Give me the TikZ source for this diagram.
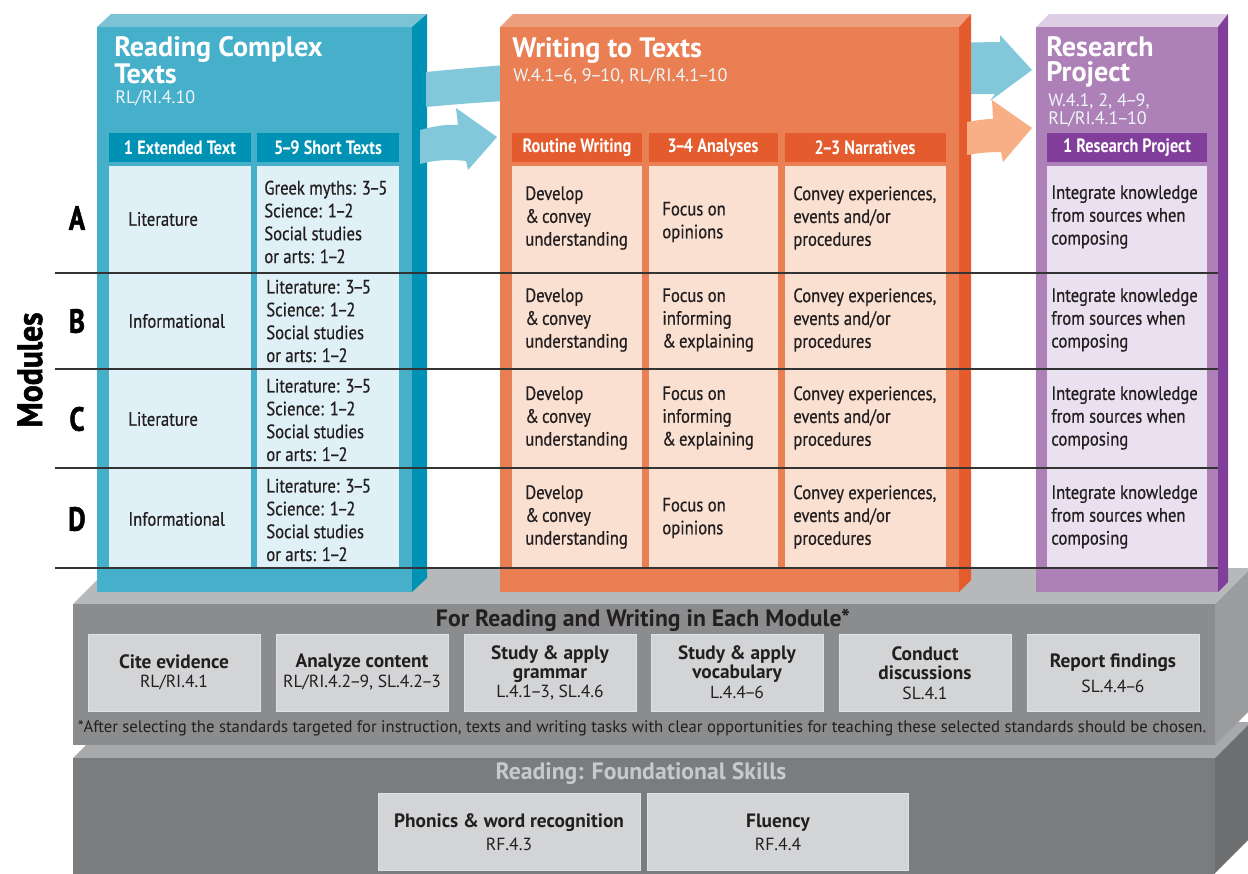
\documentclass[tikz,border=0pt]{standalone}
\usepackage{fontspec}
\setmainfont{PT Sans}
\newfontfamily\cond[FakeStretch=0.84]{PT Sans}
\newfontfamily\condM[FakeStretch=0.86,FakeBold=0.6]{PT Sans}
\newfontfamily\heavy[FakeStretch=0.8,FakeBold=1.5]{PT Sans}
\newfontfamily\heavyM[FakeStretch=0.9,FakeBold=1.5]{PT Sans}
\newcommand{\dsh}{\kern-0.09em–\kern-0.09em}
\definecolor{bluefront}{HTML}{46AFC9}
\definecolor{blueside}{HTML}{0092B4}
\definecolor{bluetop}{HTML}{7CC3D6}
\definecolor{bluecell}{HTML}{DFF0F6}
\definecolor{bluearrow}{HTML}{82C8DA}
\definecolor{orfront}{HTML}{E97F53}
\definecolor{orside}{HTML}{E45C2D}
\definecolor{ortop}{HTML}{EEA07E}
\definecolor{orcell}{HTML}{FAE0D1}
\definecolor{orarrow}{HTML}{F9AF86}
\definecolor{pufront}{HTML}{AE80B8}
\definecolor{puside}{HTML}{813E9A}
\definecolor{putop}{HTML}{DDCDE5}
\definecolor{pucell}{HTML}{E9E1F0}
\definecolor{gtopA}{HTML}{B7B8B9}
\definecolor{gfrontA}{HTML}{8B8C8D}
\definecolor{gsideA}{HTML}{9B9C9D}
\definecolor{gtopB}{HTML}{A8A9AA}
\definecolor{gfrontB}{HTML}{7B7C7D}
\definecolor{gsideB}{HTML}{6D6E70}
\definecolor{gbox}{HTML}{D3D4D6}
\definecolor{txtdark}{HTML}{231F20}
\definecolor{subwhite}{HTML}{EEF6F9}
\definecolor{rowline}{HTML}{333333}
\definecolor{fsgray}{HTML}{C8C9CA}
\tikzset{
  ttl/.style={anchor=west, align=left, inner sep=0pt, text=white, font=\bfseries\fontsize{16}{14.5}\selectfont},
  subttl/.style={anchor=west, inner sep=0pt, text=subwhite, font=\fontsize{10.3}{12}\selectfont},
  hdrtxt/.style={inner sep=0pt, text=white, font=\cond\bfseries\fontsize{11}{13}\selectfont},
  celltxt/.style={anchor=west, align=left, inner sep=0pt, text=txtdark, font=\condM\fontsize{11}{13}\selectfont},
  rowlab/.style={inner sep=0pt, text=black, font=\heavy\bfseries\fontsize{19}{21}\selectfont},
  gboxtxt/.style={align=center, inner sep=0pt, text=txtdark, font=\fontsize{10}{11}\selectfont},
  gboxfill/.style={fill=gbox, draw=gbox!70!white, line width=0.5pt},
  rline/.style={draw=rowline, line width=0.9pt},
}
\newcommand{\bx}[1]{{\bfseries\fontsize{11}{11}\selectfont #1}}
\begin{document}
\begin{tikzpicture}[x=0.02cm,y=-0.02cm]
\useasboundingbox (0,0) rectangle (1248,873);
\clip (0,0) rectangle (1248,873);
\fill[white] (0,0) rectangle (1248,873);

% ---------- lower platform ----------
\fill[gtopB] (73,758)--(109,722)--(1251,722)--(1215,758)--cycle;
\fill[gsideB] (1215,758)--(1251,722)--(1251,837)--(1215,873)--cycle;
\fill[gfrontB] (73,758) rectangle (1215,880);
% ---------- upper platform ----------
\fill[gtopA] (73,604)--(109,568)--(1251,568)--(1215,604)--cycle;
\fill[gsideA] (1215,604)--(1251,568)--(1251,709)--(1215,745)--cycle;
\fill[gfrontA] (73,604) rectangle (1215,745);

% ---------- blue box ----------
\fill[bluetop] (97,27)--(111,14)--(427,14)--(412,27)--cycle;
\fill[blueside] (412,27)--(427,14)--(427,578)--(412,592)--cycle;
\fill[bluefront] (97,27) rectangle (412,592);

% upper blue band (passes behind the orange box)
\fill[bluearrow] (426,72) .. controls (600,55) and (850,44) .. (1000,42)
  -- (1000,35) -- (1032,70) -- (990,101) -- (995,94)
  .. controls (850,96) and (600,90) .. (426,107) -- cycle;
% lower blue arrow
\fill[bluearrow] (420,130) .. controls (435,126) and (447,124) .. (458,125)
  -- (456,108) -- (497,137) -- (468,170) -- (466,161)
  .. controls (450,159) and (435,160) .. (420,164) -- cycle;

% ---------- orange box ----------
\fill[ortop] (500,27)--(513,14)--(971,14)--(959,27)--cycle;
\fill[orside] (959,27)--(971,14)--(971,580)--(959,592)--cycle;
\fill[orfront] (500,27) rectangle (959,592);
% orange arrow
\fill[orarrow] (967,122) .. controls (978,120) and (986,119) .. (993,119)
  -- (992,100) -- (1032,128) -- (1003,162) -- (1001,152)
  .. controls (990,152) and (978,153) .. (967,155) -- cycle;

% ---------- purple box ----------
\fill[putop] (1036,27)--(1049,14)--(1228,14)--(1218,27)--cycle;
\fill[puside] (1218,27)--(1228,14)--(1228,582)--(1218,592)--cycle;
\fill[pufront] (1036,27) rectangle (1218,592);

% ---------- titles ----------
\node[ttl] (rt) at (114,60) {Reading Complex\\Texts};
\node[subttl] (rs) at (115,98) {RL/RI.4.10};
\node[ttl] (wt) at (512,50) {Writing to Texts};
\node[subttl] (ws) at (513,76) {W.4.1\dsh6, 9\dsh10, RL/RI.4.1\dsh10};
\node[ttl] (pt) at (1046,62) {Research\\Project};
\node[subttl] (ps1) at (1048,101) {W.4.1, 2, 4\dsh9,};
\node[subttl] (ps2) at (1048,119) {RL/RI.4.1\dsh10};

% ---------- headers and cells ----------
\fill[blueside] (109,133) rectangle (251,162);
\fill[blueside] (257,133) rectangle (399,162);
\fill[bluecell] (109,166) rectangle (251,568);
\fill[bluecell] (257,166) rectangle (399,568);
\fill[orside] (512,133) rectangle (642,162);
\fill[orside] (649,133) rectangle (778,162);
\fill[orside] (785,133) rectangle (946,162);
\fill[orcell] (512,166) rectangle (642,568);
\fill[orcell] (649,166) rectangle (778,568);
\fill[orcell] (785,166) rectangle (946,568);
\fill[puside] (1047,133) rectangle (1207,162);
\fill[pucell] (1047,166) rectangle (1207,568);

\node[hdrtxt] (h1) at (180,148) {1 Extended Text};
\node[hdrtxt] (h2) at (328,148) {5\dsh9 Short Texts};
\node[hdrtxt] (h3) at (577,148) {Routine Writing};
\node[hdrtxt] (h4) at (713,148) {3\dsh4 Analyses};
\node[hdrtxt] (h5) at (865,148) {2\dsh3 Narratives};
\node[hdrtxt] (h6) at (1127,148) {1 Research Project};

% column 1 (reading)
\node[celltxt] (a1) at (128,219) {Literature};
\node[celltxt] (b1) at (128,321) {Informational};
\node[celltxt] (c1) at (128,419) {Literature};
\node[celltxt] (d1) at (128,519) {Informational};
% column 2 (short texts)
\node[celltxt] (a2) at (264,222) {Greek myths: 3\dsh5\\Science: 1\dsh2\\Social studies\\or arts: 1\dsh2};
\node[celltxt] (b2) at (266,321) {Literature: 3\dsh5\\Science: 1\dsh2\\Social studies\\or arts: 1\dsh2};
\node[celltxt] (c2) at (266,420) {Literature: 3\dsh5\\Science: 1\dsh2\\Social studies\\or arts: 1\dsh2};
\node[celltxt] (d2) at (266,520) {Literature: 3\dsh5\\Science: 1\dsh2\\Social studies\\or arts: 1\dsh2};
% routine writing
\node[celltxt] (a3) at (525,218) {Develop\\\&\,convey\\understanding};
\node[celltxt] (b3) at (525,320) {Develop\\\&\,convey\\understanding};
\node[celltxt] (c3) at (525,418) {Develop\\\&\,convey\\understanding};
\node[celltxt] (d3) at (525,517) {Develop\\\&\,convey\\understanding};
% analyses
\node[celltxt] (a4) at (662,222) {Focus on\\opinions};
\node[celltxt] (b4) at (662,320) {Focus on\\informing\\\&\,explaining};
\node[celltxt] (c4) at (662,418) {Focus on\\informing\\\&\,explaining};
\node[celltxt] (d4) at (662,518) {Focus on\\opinions};
% narratives
\node[celltxt] (a5) at (793,218) {Convey experiences,\\events and/or\\procedures};
\node[celltxt] (b5) at (793,320) {Convey experiences,\\events and/or\\procedures};
\node[celltxt] (c5) at (793,418) {Convey experiences,\\events and/or\\procedures};
\node[celltxt] (d5) at (793,517) {Convey experiences,\\events and/or\\procedures};
% research
\node[celltxt] (a6) at (1051,217) {Integrate knowledge\\from sources when\\composing};
\node[celltxt] (b6) at (1051,320) {Integrate knowledge\\from sources when\\composing};
\node[celltxt] (c6) at (1051,418) {Integrate knowledge\\from sources when\\composing};
\node[celltxt] (d6) at (1051,517) {Integrate knowledge\\from sources when\\composing};

% ---------- row labels ----------
\node[rowlab] (la) at (77,218) {A};
\node[rowlab] (lb) at (77,321) {B};
\node[rowlab] (lc) at (77,419) {C};
\node[rowlab] (ld) at (77,519) {D};
\node[rotate=90, inner sep=0pt, text=black, font=\heavyM\bfseries\fontsize{20}{22}\selectfont] (mod) at (30,370) {Modules};

% ---------- row lines ----------
\coordinate (l1s) at (55,273); \coordinate (l1e) at (1218,273);
\coordinate (l2s) at (55,369); \coordinate (l2e) at (1218,369);
\coordinate (l3s) at (55,468); \coordinate (l3e) at (1218,468);
\coordinate (l4s) at (55,568); \coordinate (l4e) at (1218,568);
\draw[rline] (l1s) -- (l1e);
\draw[rline] (l2s) -- (l2e);
\draw[rline] (l3s) -- (l3e);
\draw[rline] (l4s) -- (l4e);

% ---------- upper platform content ----------
\node[inner sep=0pt, text=txtdark, font=\bfseries\fontsize{13.5}{15}\selectfont] (frw) at (643,620) {For Reading and Writing in Each Module*};
\fill[gboxfill] (88,634) rectangle (260,711);
\fill[gboxfill] (276,634) rectangle (448,711);
\fill[gboxfill] (464,634) rectangle (636,711);
\fill[gboxfill] (651,634) rectangle (823,711);
\fill[gboxfill] (839,634) rectangle (1011,711);
\fill[gboxfill] (1027,634) rectangle (1199,711);
\node[gboxtxt] (g1) at (174,672) {\bx{Cite evidence}\\RL/RI.4.1};
\node[gboxtxt] (g2) at (362,672) {\bx{Analyze content}\\RL/RI.4.2\dsh9, SL.4.2\dsh3};
\node[gboxtxt] (g3) at (550,673) {\bx{Study \& apply}\\\bx{grammar}\\L.4.1\dsh3, SL.4.6};
\node[gboxtxt] (g4) at (737,672) {\bx{Study \& apply}\\\bx{vocabulary}\\L.4.4\dsh6};
\node[gboxtxt] (g5) at (925,673) {\bx{Conduct}\\\bx{discussions}\\SL.4.1};
\node[gboxtxt] (g6) at (1113,673) {\bx{Report findings}\\[3pt]SL.4.4\dsh6};
\node[inner sep=0pt, text=txtdark, font=\fontsize{9.5}{11}\selectfont] (fn) at (642,728) {*After selecting the standards targeted for instruction, texts and writing tasks with clear opportunities for teaching these selected standards should be chosen.};

% ---------- lower platform content ----------
\node[inner sep=0pt, text=fsgray, font=\bfseries\fontsize{13.5}{15}\selectfont] (rfs) at (641,774) {Reading: Foundational Skills};
\fill[gboxfill] (378,793) rectangle (640,870);
\fill[gboxfill] (647,793) rectangle (908,870);
\node[gboxtxt] (f1) at (509,832) {\bx{Phonics \& word recognition}\\[2pt]RF.4.3};
\node[gboxtxt] (f2) at (778,832) {\bx{Fluency}\\[2pt]RF.4.4};
\end{tikzpicture}
\end{document}
